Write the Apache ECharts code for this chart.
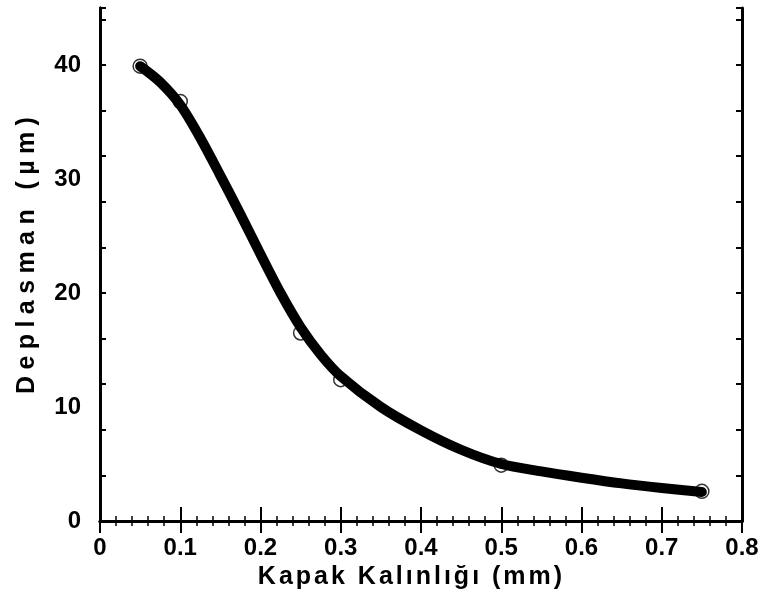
<!DOCTYPE html>
<html>
<head>
<meta charset="utf-8">
<script src="https://cdn.jsdelivr.net/npm/echarts@6/dist/echarts.min.js"></script>
<style>html,body{margin:0;padding:0;background:#fff}#c{width:764px;height:612px}</style>
</head>
<body>
<div id="c"></div>
<script>
// measured points
const pointX = [0.05, 0.1, 0.25, 0.3, 0.5, 0.75];
const pointY = [39.9, 36.8, 16.5, 12.4, 4.9, 2.6];
// fitted curve
const curveX = [0.05, 0.075, 0.1, 0.125, 0.15, 0.175, 0.2, 0.225, 0.25, 0.275, 0.3, 0.35, 0.4, 0.45, 0.5, 0.55, 0.6, 0.65, 0.7, 0.75];
const curveY = [39.9, 38.5, 36.5, 33.6, 30.3, 26.9, 23.4, 20.0, 17.0, 14.6, 12.7, 10.0, 7.95, 6.25, 5.0, 4.35, 3.8, 3.3, 2.9, 2.55];
const xTicks = [0, 0.1, 0.2, 0.3, 0.4, 0.5, 0.6, 0.7, 0.8];
const yTicks = [0, 10, 20, 30, 40];
const xTitle = 'Kapak Kalınlığı (mm)';
const yTitle = 'Deplasman (µm)';

function spaced(s) {
  return Array.from(s).map(ch => '{c|' + ch + '}').join('');
}
const FONT = '"Liberation Sans", Arial, sans-serif';

const chart = echarts.init(document.getElementById('c'), null, {renderer: 'canvas'});
const axisLine = {show: true, lineStyle: {color: '#000', width: 3}};
chart.setOption({
  animation: false,
  backgroundColor: '#fff',
  grid: {left: 100, right: 22, top: 8, bottom: 91, containLabel: false},
  xAxis: [
    {
      type: 'value', position: 'bottom', min: xTicks[0], max: xTicks[xTicks.length - 1], interval: 0.1,
      axisLine: axisLine,
      axisTick: {show: true, inside: true, length: 14, lineStyle: {color: '#000', width: 2}},
      minorTick: {show: true, splitNumber: 5, length: 5, lineStyle: {color: '#000', width: 1.5}},
      splitLine: {show: false},
      axisLabel: {color: '#000', fontSize: 24, fontWeight: 'bold', fontFamily: FONT, margin: 15},
      name: spaced(xTitle), nameLocation: 'middle', nameGap: 32,
      nameTextStyle: {fontSize: 25, fontWeight: 'bold', fontFamily: FONT, color: '#000', padding: [0, 22, 0, 0],
        rich: {c: {fontSize: 25, fontWeight: 'bold', fontFamily: FONT, color: '#000', padding: [0, 1.5, 0, 1.5]}}}
    },
    {
      type: 'value', position: 'top', min: 0, max: 0.8, interval: 0.1,
      axisLine: axisLine,
      axisTick: {show: true, inside: true, length: 12, lineStyle: {color: '#000', width: 2}},
      minorTick: {show: true, splitNumber: 5, length: 5, lineStyle: {color: '#000', width: 1.5}},
      splitLine: {show: false}, axisLabel: {show: false}
    }
  ],
  yAxis: [
    {
      type: 'value', position: 'left', min: 0, max: 45, interval: 10,
      axisLine: axisLine,
      axisTick: {show: false},
      splitLine: {show: false},
      axisLabel: {color: '#000', fontSize: 24, fontWeight: 'bold', fontFamily: FONT, margin: 19, showMaxLabel: false},
      name: spaced(yTitle), nameLocation: 'middle', nameGap: 60, nameRotate: 90,
      nameTextStyle: {fontSize: 25, fontWeight: 'bold', fontFamily: FONT, color: '#000', padding: [0, 0, 0, 18],
        rich: {c: {fontSize: 25, fontWeight: 'bold', fontFamily: FONT, color: '#000', padding: [0, 3.2, 0, 3.2]}}}
    },
    {
      type: 'value', position: 'left', min: 0, max: 45, interval: 4,
      axisLine: axisLine,
      axisTick: {show: true, inside: true, length: 6, lineStyle: {color: '#000', width: 2}},
      splitLine: {show: false}, axisLabel: {show: false}
    },
    {
      type: 'value', position: 'right', min: 0, max: 45, interval: 4,
      axisLine: axisLine,
      axisTick: {show: true, inside: true, length: 6, lineStyle: {color: '#000', width: 2}},
      splitLine: {show: false}, axisLabel: {show: false}
    }
  ],
  series: [
    {
      type: 'scatter', xAxisIndex: 0, yAxisIndex: 0, z: 2,
      data: pointX.map((x, i) => [x, pointY[i]]),
      symbol: 'circle', symbolSize: 14,
      itemStyle: {color: 'rgba(255,255,255,0)', borderColor: '#000', borderWidth: 1.5}
    },
    {
      type: 'line', xAxisIndex: 0, yAxisIndex: 0, z: 3,
      data: curveX.map((x, i) => [x, curveY[i]]),
      smooth: 0.3, showSymbol: false, symbol: 'none',
      lineStyle: {color: '#000', width: 10, cap: 'round', join: 'round'}
    }
  ]
});
</script>
</body>
</html>
